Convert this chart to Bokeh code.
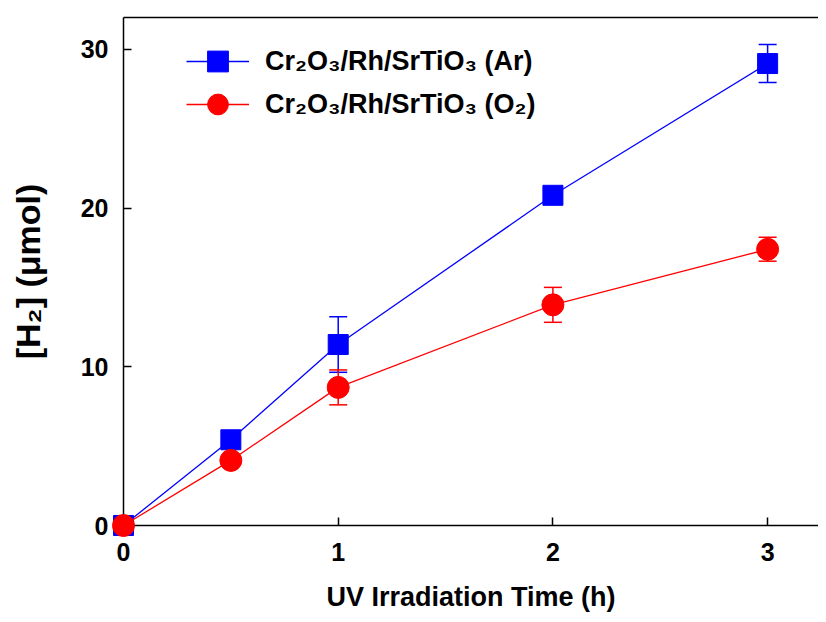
from bokeh.plotting import figure
from bokeh.models import (ColumnDataSource, Range1d, FixedTicker, Legend, LegendItem,
                          Whisker, TeeHead, LinearAxis)
from bokeh.embed import file_html
from bokeh.resources import INLINE

# ---- data ----
time_h = [0, 0.5, 1, 2, 3]
h2_ar = [0.0, 5.4, 11.4, 20.8, 29.1]
err_ar = [0.0, 0.0, 1.75, 0.3, 1.2]
h2_o2 = [0.0, 4.1, 8.7, 13.9, 17.4]
err_o2 = [0.0, 0.0, 1.1, 1.1, 0.75]
x_ticks = [0, 1, 2, 3]
y_ticks = [0, 10, 20, 30]
label_ar = "Cr₂O₃/Rh/SrTiO₃ (Ar)"
label_o2 = "Cr₂O₃/Rh/SrTiO₃ (O₂)"

BLUE = "#0000FF"
RED = "#FF0000"
FONT = "Liberation Sans"

p = figure(width=818, height=614, output_backend="svg", toolbar_location=None,
           x_range=Range1d(0, 3.237), y_range=Range1d(0, 32.0),
           min_border_left=123, min_border_right=0, min_border_top=17, min_border_bottom=88)
p.xgrid.visible = False
p.ygrid.visible = False
p.outline_line_color = None
p.background_fill_color = "white"
p.border_fill_color = "white"

xax = p.below[0]
yax = p.left[0]
for ax, ticks in ((xax, x_ticks), (yax, y_ticks)):
    ax.ticker = FixedTicker(ticks=ticks)
    ax.major_tick_in = 8
    ax.major_tick_out = 0
    ax.minor_tick_in = 0
    ax.minor_tick_out = 0
    ax.major_tick_line_width = 1.5
    ax.axis_line_width = 1.5
    ax.major_label_text_font = FONT
    ax.major_label_text_font_style = "bold"
    ax.major_label_text_font_size = "25px"
    ax.major_label_text_color = "black"
    ax.axis_label_text_font = FONT
    ax.axis_label_text_font_style = "bold"
    ax.axis_label_text_color = "black"

xax.major_label_standoff = 17
yax.major_label_standoff = 15
xax.axis_label = "UV Irradiation Time (h)"
xax.axis_label_text_font_size = "27px"
xax.axis_label_standoff = 18
yax.axis_label = "[H₂] (μmol)"
yax.axis_label_text_font_size = "34px"
yax.axis_label_standoff = 31

# top border line (no ticks, no labels)
top = LinearAxis(major_tick_in=0, major_tick_out=0, minor_tick_in=0, minor_tick_out=0,
                 major_label_text_color=None, axis_line_color="black", axis_line_width=1.5,
                 ticker=FixedTicker(ticks=[]))
p.add_layout(top, "above")

src_ar = ColumnDataSource(dict(x=time_h, y=h2_ar,
                               lo=[a - e for a, e in zip(h2_ar, err_ar)],
                               hi=[a + e for a, e in zip(h2_ar, err_ar)]))
src_o2 = ColumnDataSource(dict(x=time_h, y=h2_o2,
                               lo=[a - e for a, e in zip(h2_o2, err_o2)],
                               hi=[a + e for a, e in zip(h2_o2, err_o2)]))

for src, col in ((src_ar, BLUE), (src_o2, RED)):
    w = Whisker(source=src, base="x", lower="lo", upper="hi",
                line_color=col, line_width=1.5, level="underlay",
                upper_head=TeeHead(size=18, line_color=col, line_width=1.5),
                lower_head=TeeHead(size=18, line_color=col, line_width=1.5))
    p.add_layout(w)

l_ar = p.line("x", "y", source=src_ar, line_color=BLUE, line_width=1.3, level="overlay")
s_ar = p.scatter("x", "y", source=src_ar, marker="square", size=20,
                 fill_color=BLUE, line_color=BLUE, level="overlay")
l_o2 = p.line("x", "y", source=src_o2, line_color=RED, line_width=1.3, level="overlay")
s_o2 = p.scatter("x", "y", source=src_o2, marker="circle", size=22,
                 fill_color=RED, line_color=RED, level="overlay")

common = dict(padding=0, margin=0, spacing=0, glyph_width=63, glyph_height=52,
              label_standoff=16, label_height=20, label_text_font=FONT,
              label_text_font_style="bold", label_text_font_size="27px",
              label_text_color="black", border_line_color=None, background_fill_alpha=0)
leg1 = Legend(items=[LegendItem(label=label_ar, renderers=[l_ar, s_ar])],
              location=(63, 438), **common)
leg2 = Legend(items=[LegendItem(label=label_o2, renderers=[l_o2, s_o2])],
              location=(63, 395), **common)
p.add_layout(leg1)
p.add_layout(leg2)

open("out.html", "w").write(file_html(p, INLINE))
